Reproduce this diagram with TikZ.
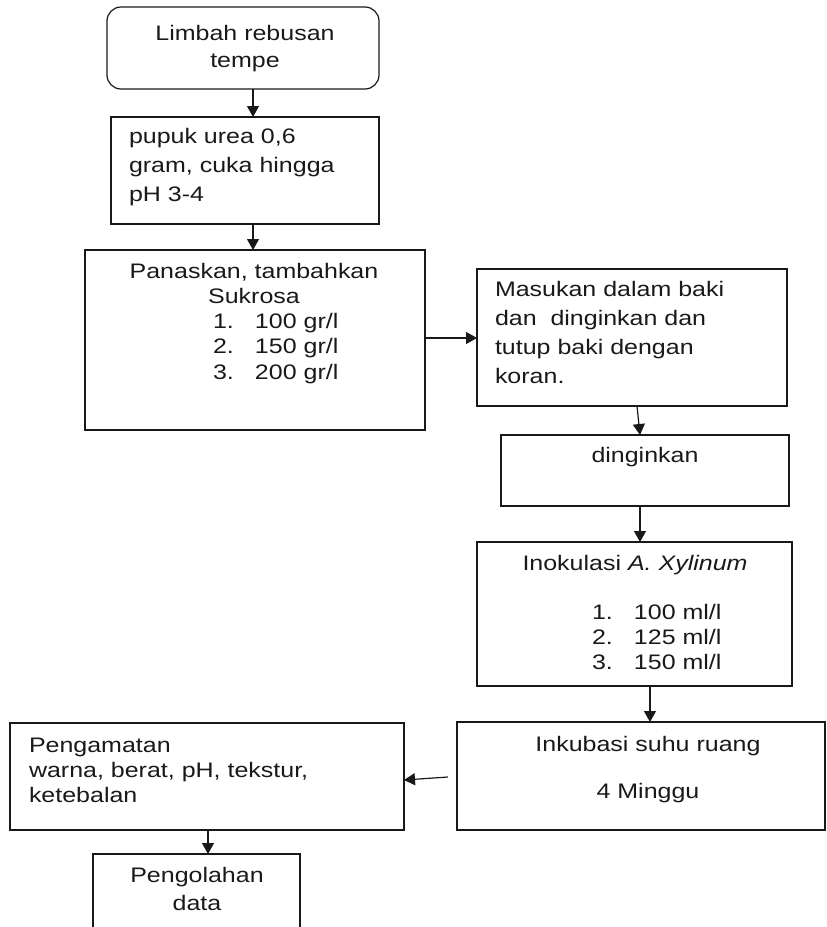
\documentclass[tikz,border=0pt]{standalone}
\usepackage{fontspec}
\setmainfont{Liberation Sans}[FakeStretch=1.19]
\usetikzlibrary{arrows.meta}
\newcommand\ftxt[3]{\fontsize{21}{#2}\selectfont\begin{tabular}[t]{@{}#1@{}}#3\end{tabular}}
\newcommand\itm[2]{\makebox[42pt][l]{#1}#2}
\begin{document}
\begin{tikzpicture}[x=1pt,y=-1pt,
  box/.style={draw=black!90,line width=1.2pt,rectangle,inner sep=0pt,outer sep=0pt},
  txt/.style={inner sep=0pt,outer sep=0pt,text=black!90},
  arr/.style={draw=black!90,line width=1.2pt,-{Triangle[length=11pt,width=12pt]}}]
\useasboundingbox (0,0) rectangle (827,927);
\clip (0,0) rectangle (827,927);
% boxes
\node[box,rounded corners=14pt,minimum width=272pt,minimum height=82pt] (b1) at (243,48) {};
\node[box,minimum width=268pt,minimum height=107pt] (b2) at (245,170.5) {};
\node[box,minimum width=340pt,minimum height=180pt] (b3) at (255,340) {};
\node[box,minimum width=310pt,minimum height=137pt] (b4) at (632,337.5) {};
\node[box,minimum width=288pt,minimum height=71pt] (b5) at (645,470.5) {};
\node[box,minimum width=315pt,minimum height=144pt] (b6) at (634.5,614) {};
\node[box,minimum width=368pt,minimum height=108pt] (b7) at (641,776) {};
\node[box,minimum width=394pt,minimum height=107pt] (b8) at (207,776.5) {};
\node[box,minimum width=207pt,minimum height=86pt] (b9) at (196.5,897) {};
% texts
\node[txt,anchor=base] (t1) at (245,40) {\ftxt{c}{27}{Limbah rebusan\\tempe}};
\node[txt,anchor=base west] (t2) at (129,143) {\ftxt{l}{29}{pupuk urea 0,6\\gram, cuka hingga\\pH 3-4}};
\node[txt,anchor=base] (t3) at (254,278) {\ftxt{c}{25}{Panaskan, tambahkan\\Sukrosa}};
\node[txt,anchor=base west] (t3l) at (213,328) {\ftxt{l}{25.5}{\itm{1.}{100 gr/l}\\\itm{2.}{150 gr/l}\\\itm{3.}{200 gr/l}}};
\node[txt,anchor=base west] (t4) at (495,296) {\ftxt{l}{29}{Masukan dalam baki\\dan~ dinginkan dan\\tutup baki dengan\\koran.}};
\node[txt,anchor=base] (t5) at (645,462) {\ftxt{c}{25}{dinginkan}};
\node[txt,anchor=base] (t6) at (635,570) {\ftxt{c}{25}{Inokulasi \textit{A. Xylinum}}};
\node[txt,anchor=base west] (t6l) at (592,619) {\ftxt{l}{25}{\itm{1.}{100 ml/l}\\\itm{2.}{125 ml/l}\\\itm{3.}{150 ml/l}}};
\node[txt,anchor=base] (t7) at (648,751) {\ftxt{c}{25}{Inkubasi suhu ruang\\[22pt]4 Minggu}};
\node[txt,anchor=base west] (t8) at (29,752) {\ftxt{l}{25}{Pengamatan\\warna, berat, pH, tekstur,\\ketebalan}};
\node[txt,anchor=base] (t9) at (197,882) {\ftxt{c}{28}{Pengolahan\\data}};
% connectors
\draw[arr] ([shift={(10,0)}]b1.south) -- ([shift={(8,0)}]b2.north);
\draw[arr] ([shift={(8,0)}]b2.south) -- ([shift={(-2,0)}]b3.north);
\draw[arr] ([shift={(0,-2)}]b3.east) -- ([shift={(0,0.5)}]b4.west);
\draw[arr] ([shift={(5,0)}]b4.south) -- ([shift={(-5,0)}]b5.north);
\draw[arr] ([shift={(-5,0)}]b5.south) -- ([shift={(5.5,0)}]b6.north);
\draw[arr] ([shift={(15.5,0)}]b6.south) -- ([shift={(9,0)}]b7.north);
\coordinate (a7s) at ([shift={(-9,1)}]b7.west);
\draw[arr] (a7s) -- ([shift={(0,3.5)}]b8.east);
\draw[arr] ([shift={(1,0)}]b8.south) -- ([shift={(11.5,0)}]b9.north);
\end{tikzpicture}
\end{document}
